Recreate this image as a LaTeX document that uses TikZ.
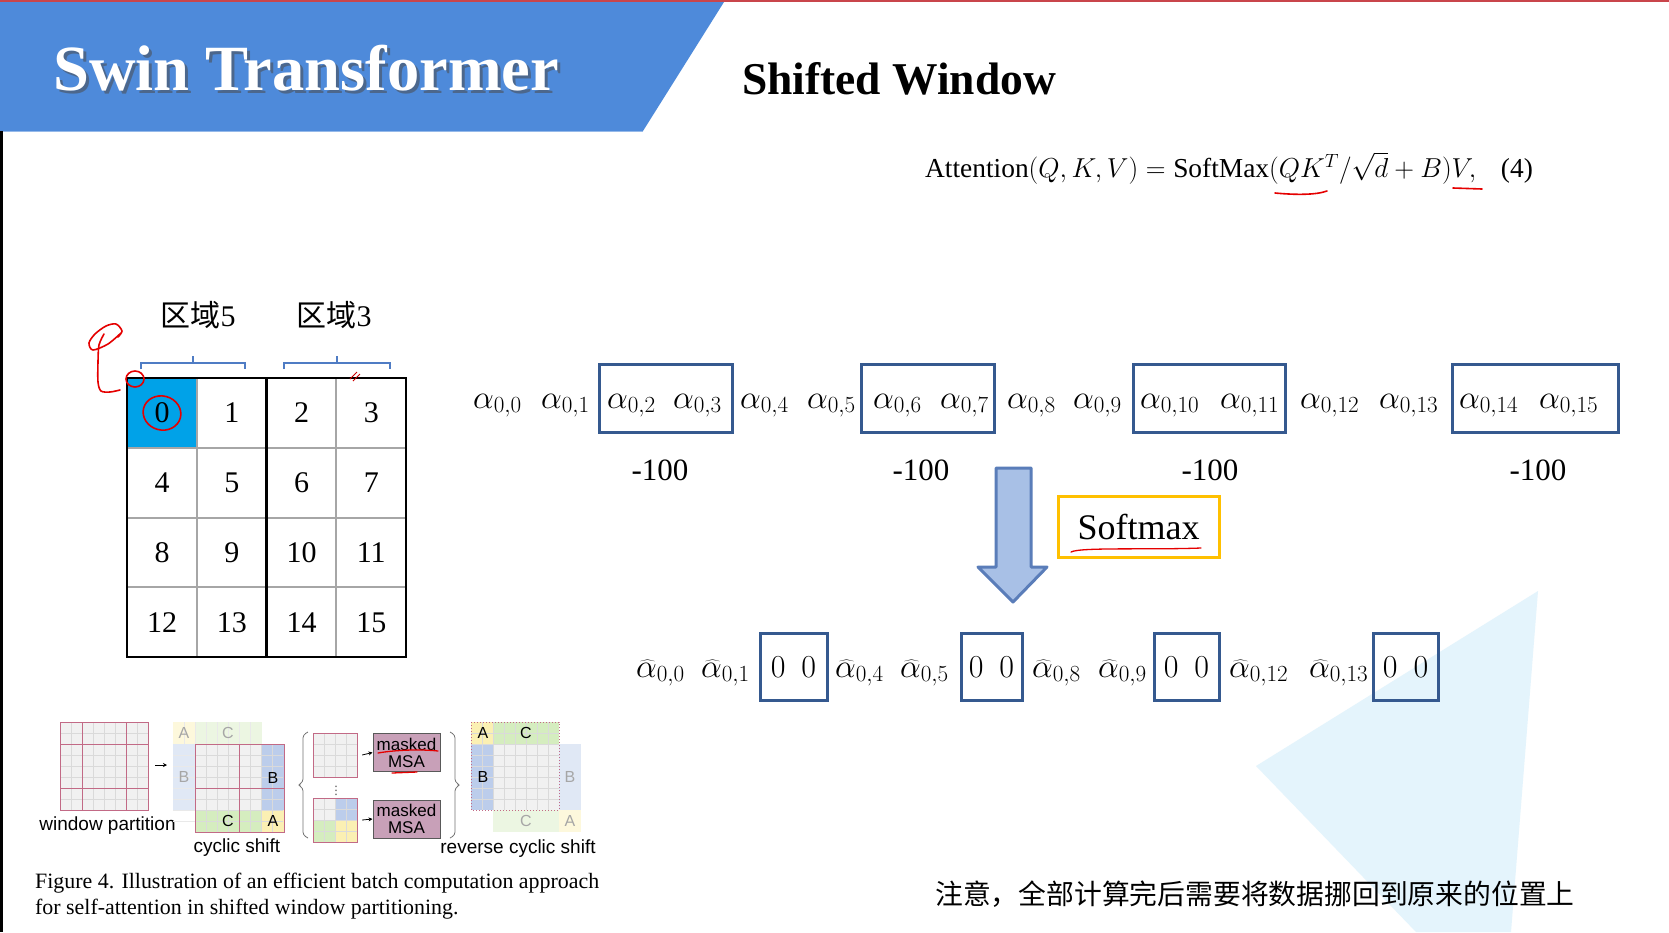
\RequirePackage{fix-cm}
\documentclass[tikz,border=0pt]{standalone}
\usepackage{fontspec}
\setmainfont{Liberation Serif}
\newfontfamily\cjk{Noto Sans CJK SC}
\newfontfamily\arialf{Liberation Sans}
\usetikzlibrary{calc,arrows.meta}

\definecolor{hdrblue}{HTML}{4E8ADA}
\definecolor{topred}{HTML}{C9454B}
\definecolor{boxblue}{HTML}{35598F}
\definecolor{cellblue}{HTML}{00A2E8}
\definecolor{bracecol}{HTML}{4F7CC4}
\definecolor{arrowfill}{HTML}{A8C0E6}
\definecolor{arrowline}{HTML}{5A7DB9}
\definecolor{softgold}{HTML}{FFC000}
\definecolor{paleblue}{HTML}{E4F4FC}
\definecolor{pinkline}{HTML}{C26A86}
\definecolor{figgray}{HTML}{F1F1F1}
\definecolor{finegray}{HTML}{DADADA}
\definecolor{stripblue}{HTML}{BCCDEB}
\definecolor{stripgreen}{HTML}{D5EDBF}
\definecolor{stripyellow}{HTML}{FBF0B3}
\definecolor{msafill}{HTML}{C8A0B8}

% 8x8 fine grid of 11pt cells starting at (#1,#2)
\newcommand\finegridA[2]{%
  \foreach \k in {1,...,7}{%
    \draw[finegray, line width=0.5pt] ({#1+11*\k},#2) -- ++(0,88);
    \draw[finegray, line width=0.5pt] (#1,{#2+11*\k}) -- ++(88,0);}}
% 4x4 fine grid of 11pt cells
\newcommand\finegridB[2]{%
  \foreach \k in {1,2,3}{%
    \draw[finegray, line width=0.5pt] ({#1+11*\k},#2) -- ++(0,44);
    \draw[finegray, line width=0.5pt] (#1,{#2+11*\k}) -- ++(44,0);}}

\begin{document}
\begin{tikzpicture}[x=1pt,y=-1pt,
  ink/.style={red!90!black, line width=1.6pt, line cap=round, line join=round},
  alpha/.style={anchor=base west, inner sep=0pt, font=\fontsize{33}{36}\selectfont},
  winbox/.style={draw=boxblue, line width=3pt, inner sep=0pt},
  minus/.style={anchor=base, inner sep=0pt, font=\fontsize{31}{36}\selectfont},
  cellnum/.style={inner sep=0pt, font=\fontsize{30}{34}\selectfont},
  zeros/.style={inner sep=0pt, font=\fontsize{32}{36}\selectfont},
  figlbl/.style={inner sep=0pt, font=\arialf\fontsize{19}{22}\selectfont},
  figletter/.style={inner sep=0pt, font=\arialf\fontsize{16}{18}\selectfont},
  fadedletter/.style={figletter, text=black!35},
  msabox/.style={draw=black!65, fill=msafill, line width=1pt, minimum width=67, minimum height=38,
     inner sep=0pt, align=center, font=\arialf\fontsize{17}{19}\selectfont},
  smallsq/.style={minimum width=44, minimum height=44, inner sep=0pt},
  tinyarrow/.style={-{Stealth[length=4pt,width=4pt]}, line width=0.8pt}
]
\useasboundingbox (0,0) rectangle (1669,932);
\fill[white] (0,0) rectangle (1669,932);

% ---------- header ----------
\fill[hdrblue] (0,2) -- (724,2) -- (643,131) -- (0,131) -- cycle;
\draw[hdrblue!60!white, line width=1pt] (0,131) -- (643,131);
\draw[topred, line width=2.5pt] (0,1) -- (1669,1);
\fill[black] (0,131) rectangle (3,932);
\node[anchor=base west, inner sep=0pt, text=black!70, opacity=0.55,
      font=\bfseries\fontsize{64.5}{70}\selectfont] at (56,93) {Swin Transformer};
\node[anchor=base west, inner sep=0pt, text=white,
      font=\bfseries\fontsize{64.5}{70}\selectfont] (title) at (53,90) {Swin Transformer};
\node[anchor=base west, inner sep=0pt, font=\bfseries\fontsize{45.5}{50}\selectfont]
      (subtitle) at (742,94) {Shifted Window};

% ---------- equation ----------
\node[anchor=base west, inner sep=0pt, font=\fontsize{27.4}{32}\selectfont] (eq) at (925,177)
  {Attention$(Q,K,V)=\mbox{SoftMax}(QK^T/\sqrt{d}+B)V,$\hspace{0.9em}(4)};
\draw[ink] (1275,193) .. controls (1296,195) and (1316,195) .. (1327,191);
\draw[ink] (1453,188) -- (1482,189);

% ---------- 4x4 token grid ----------
\fill[cellblue] (127,378) rectangle (196.75,447.75);
\foreach \r in {0,...,3}{
  \foreach \c in {0,...,3}{
    \pgfmathtruncatemacro\k{4*\r+\c}
    \node[cellnum] (c\k) at ({162+69.75*\c},{413+69.75*\r}) {\k};
  }
}
\foreach \i in {1,2,3}{
  \draw[black!35, line width=2pt] ({127+69.75*\i},378) -- ++(0,279);
  \draw[black!35, line width=2pt] (127,{378+69.75*\i}) -- ++(279,0);
}
\draw[black, line width=2.2pt] (266.5,378) -- (266.5,657);
\draw[black, line width=2.6pt] (127,378) rectangle (406,657);

% region braces and labels
\draw[bracecol, line width=1.3pt] (141,369) -- (141,363) -- (245,363) -- (245,369)
      (193,363) -- (193,356);
\draw[bracecol, line width=1.3pt] (284,369) -- (284,363) -- (390,363) -- (390,369)
      (337,363) -- (337,356);
\node[inner sep=0pt, font=\fontsize{30}{34}\selectfont] (r5) at (198,315) {{\cjk 区域}5};
\node[inner sep=0pt, font=\fontsize{30}{34}\selectfont] (r3) at (334,315) {{\cjk 区域}3};

% hand-drawn red marks
\draw[ink] plot[smooth] coordinates {(118,337) (122,331) (116,324) (106,326) (95,334) (89,343) (93,350) (108,344) (121,333)};
\draw[ink] plot[smooth] coordinates {(104,334) (99,345) (98,362) (98,382) (101,391) (110,392) (120,390)};
\draw[ink] (135,379) ellipse [x radius=9, y radius=8];
\draw[ink, rotate around={-15:(162,413)}] (162,413) ellipse [x radius=19, y radius=17];
\draw[red!80!black, line width=1pt] (357,372) -- (350,379) (360,374) -- (353,381);

% ---------- attention row ----------
\node[winbox, minimum width=133, minimum height=68] (w1) at (665.5,398) {};
\node[winbox, minimum width=133, minimum height=68] (w2) at (927.5,398) {};
\node[winbox, minimum width=152, minimum height=68] (w3) at (1209,398) {};
\node[winbox, minimum width=166, minimum height=68] (w4) at (1535,398) {};
\foreach \x/\j in {473/0,541/1,607/2,673/3,740/4,807/5,873/6,940/7,1007/8,1073/9,
                   1140/10,1220/11,1300/12,1379/13,1459/14,1539/15}{
  \node[alpha] (a\j) at (\x,408) {$\alpha_{0,\j}$};
}
\node[minus] (m1) at (660,480) {-100};
\node[minus] (m2) at (921,480) {-100};
\node[minus] (m3) at (1210,480) {-100};
\node[minus] (m4) at (1538,480) {-100};

% ---------- softmax step ----------
\filldraw[fill=arrowfill, draw=arrowline, line width=3pt, line join=round]
  (996,468) -- (1031,468) -- (1031,567) -- (1047,567) -- (1013,602) -- (978,567) -- (996,567) -- cycle;
\node[draw=softgold, line width=3pt, minimum width=161, minimum height=61, inner sep=0pt,
      font=\fontsize{36}{40}\selectfont] (sm) at (1138.5,526.5) {Softmax};
\draw[ink, line width=1.3pt] (1071,552) .. controls (1080,547) and (1150,550) .. (1201,548);

% pale backdrop shape
\fill[paleblue] (1538,591) -- (1256,766) -- (1416,932) -- (1511,932) -- cycle;

% ---------- softmax output row ----------
\node[winbox, minimum width=67, minimum height=67] (z1) at (793.5,666.5) {};
\node[winbox, minimum width=61, minimum height=67] (z2) at (991.5,666.5) {};
\node[winbox, minimum width=65, minimum height=67] (z3) at (1186.5,666.5) {};
\node[winbox, minimum width=65, minimum height=67] (z4) at (1405.5,666.5) {};
\foreach \b in {1,...,4}{
  \node[zeros, anchor=base] (zz\b) at ($(z\b.center)+(0,11)$) {$0\ \ 0$};
}
\foreach \x/\j in {636/0,701/1,835/4,900/5,1032/8,1098/9,1229/12,1309/13}{
  \node[alpha] (h\j) at (\x,677) {$\widehat{\alpha}_{0,\j}$};
}

% ---------- note ----------
\node[anchor=west, inner sep=0pt, font=\cjk\fontsize{27.8}{30}\selectfont] (note) at (935,894)
  {注意，全部计算完后需要将数据挪回到原来的位置上};

% ---------- Figure 4 ----------
% window partition
\fill[figgray] (60,722) rectangle (148,810);
\finegridA{60}{722}
\draw[pinkline, line width=1pt] (82,722) -- (82,810) (126,722) -- (126,810)
      (60,744) -- (148,744) (60,788) -- (148,788);
\draw[pinkline, line width=1pt] (60,722) rectangle (148,810);
\node[figlbl] (lwp) at (107.5,826) {window partition};
\coordinate (wpR) at (155,765);
\coordinate (csL) at (167,765);
\draw[tinyarrow] (wpR) -- (csL);

% cyclic shift
\fill[stripyellow, opacity=0.45] (173,722) rectangle (195,744);
\fill[stripgreen, opacity=0.45] (195,722) rectangle (262,744);
\fill[stripblue, opacity=0.45] (173,744) rectangle (195,810);
\fill[figgray] (195,744) rectangle (284,832);
\fill[stripblue] (262,744) rectangle (284,810);
\fill[stripgreen] (195,810) rectangle (262,832);
\fill[stripyellow] (262,810) rectangle (284,832);
\finegridA{195}{744}
\foreach \k in {1,...,7}{
  \draw[finegray!60, line width=0.5pt] ({173+11*\k},722) -- ++(0,22);
  \draw[finegray!60, line width=0.5pt] (173,{744+11*\k}) -- ++(22,0);
}
\draw[pinkline, line width=1pt] (239.5,744) -- (239.5,832) (195,788) -- (284,788);
\draw[pinkline, line width=1pt] (195,744) rectangle (284,832);
\node[fadedletter] at (184,733) {A};
\node[fadedletter] at (228,733) {C};
\node[fadedletter] at (184,777) {B};
\node[figletter] at (273,778) {B};
\node[figletter] at (228,821) {C};
\node[figletter] at (273,821) {A};
\node[figlbl] (lcs) at (237,848) {cyclic shift};

% batched windows
\draw[black!55, line width=0.8pt, rounded corners=3pt]
  (308,732) -- (303,735) -- (303,782) -- (298,785) -- (303,788) -- (303,835) -- (308,838);
\node[smallsq, fill=figgray] (sq1) at (335,755) {};
\finegridB{313}{733}
\draw[pinkline, line width=1pt] (313,733) rectangle (357,777);
\node[msabox] (msa1) at (406.5,752.5) {masked\\[-2pt]MSA};
\draw[tinyarrow] (sq1.east) ++(5,0) -- (msa1.west);
\node[inner sep=0pt, font=\fontsize{14}{14}\selectfont, text=black!60] (vd) at (336,788) {$\vdots$};
\node[smallsq, fill=figgray] (sq2) at (335,820) {};
\fill[stripblue] (335,798) rectangle (357,820);
\fill[stripgreen] (313,820) rectangle (335,842);
\fill[stripyellow] (335,820) rectangle (357,842);
\finegridB{313}{798}
\draw[pinkline, line width=1pt] (313,798) rectangle (357,842);
\node[msabox] (msa2) at (406.5,819) {masked\\[-2pt]MSA};
\draw[tinyarrow] (sq2.east) ++(5,0) -- (msa2.west);
\draw[black!55, line width=0.8pt, rounded corners=3pt]
  (450,732) -- (455,735) -- (455,782) -- (460,785) -- (455,788) -- (455,835) -- (450,838);
\draw[ink, line width=1.3pt] (378,753) .. controls (395,750) and (420,749) .. (438,751);
\draw[ink, line width=1.3pt] (392,773) -- (417,772);

% reverse cyclic shift
\fill[figgray] (471,722) rectangle (559,810);
\fill[stripyellow] (471,722) rectangle (493,744);
\fill[stripgreen] (493,722) rectangle (559,744);
\fill[stripblue] (471,744) rectangle (493,810);
\fill[stripblue, opacity=0.45] (559,744) rectangle (581,810);
\fill[stripgreen, opacity=0.45] (493,810) rectangle (559,832);
\fill[stripyellow, opacity=0.45] (559,810) rectangle (581,832);
\finegridA{471}{722}
\draw[pinkline, line width=1pt, dotted] (471,722) rectangle (559,810);
\node[figletter] at (483,733) {A};
\node[figletter] at (526,733) {C};
\node[figletter] at (483,777) {B};
\node[fadedletter] at (570,777) {B};
\node[fadedletter] at (526,821) {C};
\node[fadedletter] at (570,821) {A};
\node[figlbl] (lrc) at (518,849) {reverse cyclic shift};

% caption
\node[anchor=base west, inner sep=0pt, font=\fontsize{21.9}{24}\selectfont] (cap1) at (35,888)
  {Figure 4. Illustration of an efficient batch computation approach};
\node[anchor=base west, inner sep=0pt, font=\fontsize{21.9}{24}\selectfont] (cap2) at (35,914)
  {for self-attention in shifted window partitioning.};
\end{tikzpicture}
\end{document}
